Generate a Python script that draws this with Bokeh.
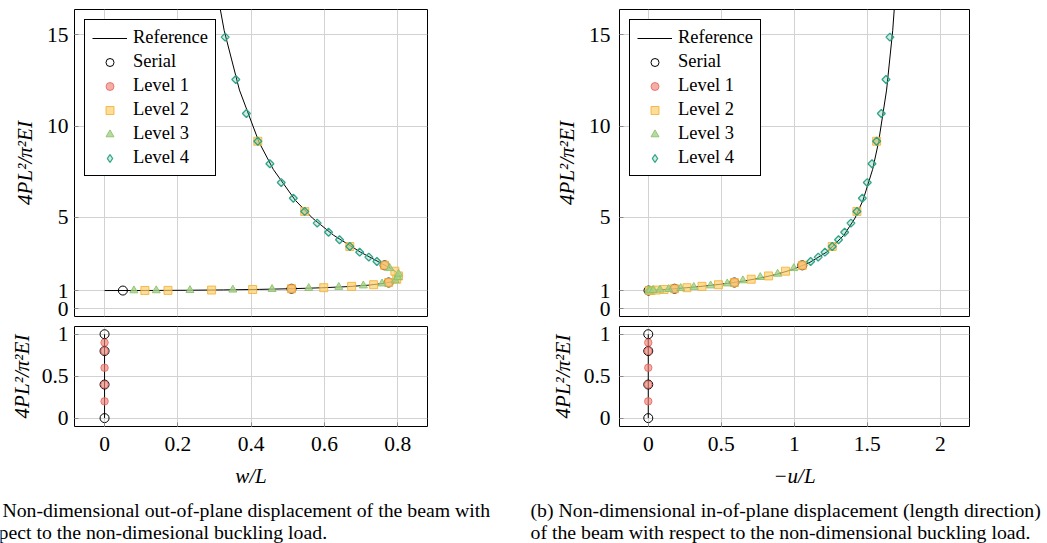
import math
from bokeh.plotting import figure
from bokeh.models import Range1d, FixedTicker
from bokeh.layouts import column, row
from bokeh.embed import file_html
from bokeh.resources import INLINE
from bokeh.core.properties import value

# ---------------- data ----------------
# reference (elastica) curve: load 4PL^2/(pi^2 EI), out-of-plane w/L, in-plane -u/L
ref_load = [1.0, 1.0038, 1.015, 1.0351, 1.063, 1.102, 1.152, 1.2147, 1.293, 1.3932, 1.518,
            1.6779, 1.884, 2.1605, 2.5424, 3.1054, 4.030, 4.966, 5.95, 7.628, 9.114, 11.97,
            15.22, 18.86]
ref_w = [0.0, 0.1108, 0.220, 0.3239, 0.422, 0.5126, 0.593, 0.6627, 0.719, 0.7627, 0.792,
         0.8052, 0.803, 0.7851, 0.7504, 0.6979, 0.6246, 0.5671, 0.520, 0.4604, 0.4215, 0.368,
         0.3264, 0.2932]
ref_u = [0.0, 0.0076, 0.030, 0.0676, 0.119, 0.183, 0.259, 0.345, 0.440, 0.543, 0.651,
         0.763, 0.877, 0.992, 1.107, 1.222, 1.340, 1.416, 1.471, 1.5365, 1.577, 1.632,
         1.674, 1.707]
ref_pre_load = [0.0, 1.0]
ref_pre_disp = [0.0, 0.0]

serial_load = [1.0, 1.10, 1.44, 2.38]
serial_w = [0.05, 0.51, 0.775, 0.764]
serial_u = [0.0016, 0.18, 0.59, 1.055]
serial_pre_load = [0.0, 0.4, 0.8, 1.0]

lvl1_load = [1.10, 1.44, 2.38]
lvl1_w = [0.51, 0.775, 0.764]
lvl1_u = [0.18, 0.59, 1.055]
lvl1_pre_load = [0.2, 0.4, 0.6, 0.8, 0.9]

lvl2_load = [1.004, 1.009, 1.027, 1.057, 1.10, 1.156, 1.23, 1.32, 1.44, 1.62, 1.80, 2.06,
             2.38, 3.41, 5.33, 9.17]
lvl2_w = [0.11, 0.173, 0.292, 0.404, 0.51, 0.598, 0.674, 0.734, 0.775, 0.797, 0.802, 0.792,
          0.764, 0.669, 0.546, 0.418]
lvl2_u = [0.008, 0.019, 0.054, 0.108, 0.18, 0.265, 0.368, 0.481, 0.59, 0.705, 0.824, 0.94,
          1.055, 1.26, 1.429, 1.564]

lvl3_load = [1.002, 1.006, 1.017, 1.042, 1.076, 1.128, 1.19, 1.27, 1.38, 1.55, 1.73, 1.91, 2.22]
lvl3_w = [0.08, 0.141, 0.233, 0.35, 0.457, 0.557, 0.639, 0.706, 0.757, 0.793, 0.800, 0.802, 0.778]
lvl3_u = [0.004, 0.012, 0.034, 0.08, 0.14, 0.222, 0.312, 0.427, 0.541, 0.648, 0.767, 0.886, 0.997]

lvl4_load = [2.59, 2.83, 3.10, 3.41, 3.78, 4.19, 4.69, 5.33, 6.05, 6.91, 7.94, 9.17, 10.69,
             12.55, 14.87]
lvl4_w = [0.743, 0.721, 0.696, 0.669, 0.641, 0.611, 0.580, 0.546, 0.515, 0.482, 0.451, 0.418,
          0.387, 0.358, 0.329]
lvl4_u = [1.112, 1.164, 1.21, 1.26, 1.303, 1.345, 1.388, 1.429, 1.466, 1.5, 1.532, 1.564,
          1.596, 1.628, 1.655]

y_ticks_top = [0, 1, 5, 10, 15]
y_ticks_bot = [0, 0.5, 1]
y_labels_bot = ["0", "0.5", "1"]
x_ticks_left = [0, 0.2, 0.4, 0.6, 0.8]
x_labels_left = ["0", "0.2", "0.4", "0.6", "0.8"]
x_ticks_right = [0, 0.5, 1, 1.5, 2]
x_labels_right = ["0", "0.5", "1", "1.5", "2"]
y_label = "4PL²/π²EI"

caption_a = ["(a) Non-dimensional out-of-plane displacement of the beam with",
             "respect to  the non-dimesional buckling load."]
caption_b = ["(b) Non-dimensional in-of-plane displacement (length direction)",
             "of the beam with respect to the non-dimensional buckling load."]

# ---------------- style ----------------
FONT = "Liberation Serif"
GRID = "#d2d2d2"
TICK = "#8a8a8a"
TICK_FS = "21.5px"
LAB_FS = "21px"

STYLES = {
    "serial": dict(marker="circle", size=9, fill_color=None, line_color="black", line_width=1),
    "l1": dict(marker="circle", size=7.5, fill_color="#ee8379", fill_alpha=0.65,
               line_color="#e2574a", line_alpha=0.7, line_width=1),
    "l2": dict(marker="square", size=8, fill_color="#fbd06c", fill_alpha=0.7,
               line_color="#f5ad2e", line_alpha=0.8, line_width=1),
    "l3": dict(marker="triangle", size=8, fill_color="#a6d08a", fill_alpha=0.8,
               line_color="#8cc26a", line_alpha=0.9, line_width=1),
    "l4": dict(marker="square", size=5.6, angle=math.pi / 4, fill_color="#2ca58d",
               fill_alpha=0.22, line_color="#27a07f", line_alpha=0.95, line_width=1.3),
    # legend swatch only: zero-size in the plot, legend draws it at its own size
    "l4_legend": dict(marker="diamond", size=0, fill_color="#2ca58d",
                      fill_alpha=0.22, line_color="#27a07f", line_alpha=0.95, line_width=1.3),
}


def style_axis(ax, ticks, overrides=None, standoff=6):
    ax.ticker = FixedTicker(ticks=ticks)
    ax.major_tick_in = 4
    ax.major_tick_out = 0
    ax.minor_tick_in = 0
    ax.minor_tick_out = 0
    ax.major_tick_line_color = TICK
    ax.axis_line_color = None
    ax.major_label_text_font = FONT
    ax.major_label_text_color = "black"
    ax.major_label_text_font_size = TICK_FS
    ax.major_label_standoff = standoff
    if overrides:
        ax.major_label_overrides = overrides


def make_fig(width, height, xr, yr, bl, br, bt, bb, x_axis=True):
    p = figure(width=width, height=height, x_range=xr, y_range=yr,
               output_backend="svg", toolbar_location=None, tools="",
               x_axis_location="below" if x_axis else None,
               min_border_left=bl, min_border_right=br, min_border_top=bt,
               min_border_bottom=bb)
    p.outline_line_color = "black"
    p.outline_line_width = 1
    p.outline_line_alpha = 1
    p.background_fill_color = "white"
    p.border_fill_color = "white"
    p.grid.grid_line_color = GRID
    p.grid.grid_line_width = 1
    return p


def ylabel(ax, standoff):
    ax.axis_label = y_label
    ax.axis_label_text_font = FONT
    ax.axis_label_text_font_style = "italic"
    ax.axis_label_text_font_size = LAB_FS
    ax.axis_label_text_color = "black"
    ax.axis_label_standoff = standoff


def panel(xr, xticks, xlabels, xlabel, disp, s_disp, l1_disp, l2_disp, l3_disp, l4_disp,
          width, bl, br, top_std, bot_std, top_lab_std, bot_lab_std):
    xo = {t: s for t, s in zip(xticks, xlabels)}
    # ---- top (post-buckling) ----
    top = make_fig(width, 321, xr, Range1d(-0.42, 16.38), bl, br, 9, 5, x_axis=False)
    top.xgrid.ticker = FixedTicker(ticks=xticks)
    style_axis(top.yaxis[0], y_ticks_top, standoff=top_std)
    ylabel(top.yaxis[0], top_lab_std)
    top.line(disp, ref_load, line_color="black", line_width=1, legend_label="Reference")
    top.scatter(s_disp, serial_load, legend_label="Serial", **STYLES["serial"])
    top.scatter(l1_disp, lvl1_load, legend_label="Level 1", **STYLES["l1"])
    top.scatter(l2_disp, lvl2_load, legend_label="Level 2", **STYLES["l2"])
    top.scatter(l3_disp, lvl3_load, legend_label="Level 3", **STYLES["l3"])
    top.scatter(l4_disp, lvl4_load, **STYLES["l4"])
    top.scatter(l4_disp, lvl4_load, legend_label="Level 4", **STYLES["l4_legend"])
    lg = top.legend[0]
    lg.location = "top_left"
    lg.margin = 10
    lg.padding = 7
    lg.spacing = 3
    lg.glyph_width = 35
    lg.glyph_height = 20
    lg.label_height = 20
    lg.label_standoff = 6
    lg.label_text_font = FONT
    lg.label_text_font_size = "18.5px"
    lg.label_text_color = "black"
    lg.border_line_color = "black"
    lg.border_line_width = 1
    lg.border_line_alpha = 1
    lg.background_fill_alpha = 1

    # ---- bottom (pre-buckling) ----
    bot = make_fig(width, 169, xr, Range1d(-0.1, 1.092), bl, br, 5, 57)
    style_axis(bot.xaxis[0], xticks, overrides=xo, standoff=10)
    bot.xaxis[0].axis_label = xlabel
    bot.xaxis[0].axis_label_text_font = FONT
    bot.xaxis[0].axis_label_text_font_style = "italic"
    bot.xaxis[0].axis_label_text_font_size = LAB_FS
    bot.xaxis[0].axis_label_text_color = "black"
    bot.xaxis[0].axis_label_standoff = 10
    style_axis(bot.yaxis[0], y_ticks_bot,
               overrides={t: s for t, s in zip(y_ticks_bot, y_labels_bot)},
               standoff=bot_std)
    ylabel(bot.yaxis[0], bot_lab_std)
    bot.line(ref_pre_disp, ref_pre_load, line_color="black", line_width=1)
    bot.scatter([0.0] * len(serial_pre_load), serial_pre_load, **STYLES["serial"])
    bot.scatter([0.0] * len(lvl1_pre_load), lvl1_pre_load, **STYLES["l1"])
    return top, bot


tl, bl_ = panel(Range1d(-0.082, 0.881), x_ticks_left, x_labels_left, "w/L",
                ref_w, serial_w, lvl1_w, lvl2_w, lvl3_w, lvl4_w,
                500, 74, 73, 6, 6, 7, 5)
tr, br_ = panel(Range1d(-0.197, 2.2), x_ticks_right, x_labels_right, "−u/L",
                ref_u, serial_u, lvl1_u, lvl2_u, lvl3_u, lvl4_u,
                547, 119, 78, 9, 9, 7, 6)

# ---- captions ----
cap = figure(width=1047, height=53, x_range=Range1d(0, 1047), y_range=Range1d(53, 0),
             output_backend="svg", toolbar_location=None, tools="",
             x_axis_location=None, y_axis_location=None, min_border=0)
cap.outline_line_color = None
cap.grid.visible = False
cap.text(x=[-25, -25, 530, 530], y=[19, 41, 19, 41],
         text=caption_a + caption_b,
         text_font=value(FONT), text_font_size=value("19.8px"),
         text_baseline="middle", text_align="left", text_color="black")

layout = column(row(tl, tr), row(bl_, br_), cap)
open("out.html", "w").write(file_html(layout, INLINE))
